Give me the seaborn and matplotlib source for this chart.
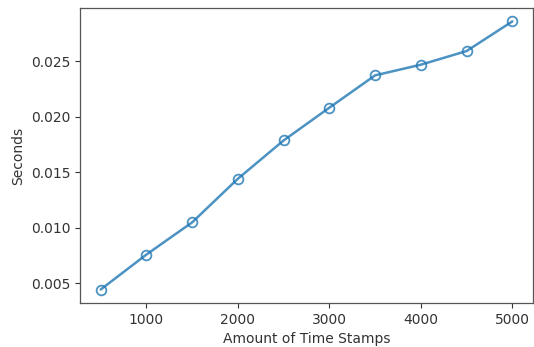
import matplotlib
matplotlib.use("Agg")
import matplotlib.pyplot as plt
import seaborn as sns
import pandas as pd

# Data
stamps = [500, 1000, 1500, 2000, 2500, 3000, 3500, 4000, 4500, 5000]
seconds = [0.00445, 0.0076, 0.0105, 0.01443, 0.01788, 0.02083, 0.02374, 0.0247, 0.02593, 0.0286]

df = pd.DataFrame({"stamps": stamps, "seconds": seconds})

sns.set_style("ticks")
plt.rcParams["font.family"] = ["DejaVu Sans"]

fig = plt.figure(figsize=(5.34, 3.47), dpi=100)
ax = fig.add_axes([0.15, 0.127, 0.848, 0.85])

sns.lineplot(x="stamps", y="seconds", data=df, ax=ax, color="#1f77b4", alpha=0.8,
             linewidth=1.8, marker="o", markersize=7, markerfacecolor="none",
             markeredgecolor="#1f77b4", markeredgewidth=1.3)

ax.set_xlabel("Amount of Time Stamps", fontsize=10, color="#333333")
ax.set_ylabel("Seconds", fontsize=10, color="#333333")
ax.tick_params(labelsize=10, colors="#333333", length=3.5, width=0.8)
for s in ax.spines.values():
    s.set_color("#555555")
    s.set_linewidth(0.9)

fig.savefig("out.png", dpi=100)
